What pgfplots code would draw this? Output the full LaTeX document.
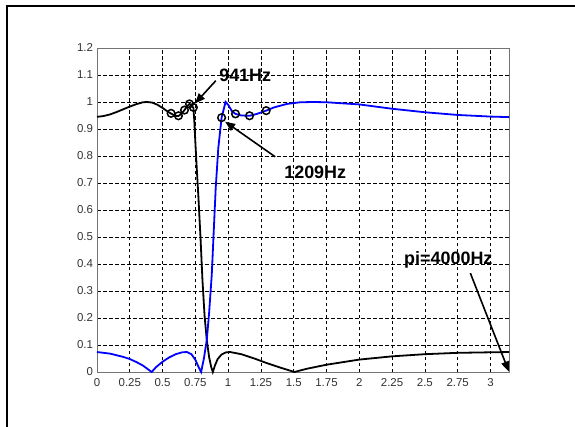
\documentclass[border=0pt]{standalone}
\usepackage{fontspec}
\setmainfont{Liberation Sans}
\usepackage{pgfplots}
\pgfplotsset{compat=1.18}
\usetikzlibrary{arrows.meta}
\begin{document}
\begin{tikzpicture}[x=1bp,y=1bp]
\useasboundingbox (0,0) rectangle (575,426);
\draw[line width=1.6bp] (7,-20) -- (7,420) -- (600,420);
\begin{axis}[
  at={(97bp,54bp)}, anchor=south west,
  width=412bp, height=324bp, scale only axis,
  xmin=0, xmax=3.14159, ymin=0, ymax=1.2,
  xtick={0,0.25,0.5,0.75,1,1.25,1.5,1.75,2,2.25,2.5,2.75,3},
  xticklabels={0,0.25,0.5,0.75,1,1.25,1.5,1.75,2,2.25,2.5,2.75,3},
  ytick={0,0.1,0.2,0.3,0.4,0.5,0.6,0.7,0.8,0.9,1,1.1,1.2},
  yticklabels={0,0.1,0.2,0.3,0.4,0.5,0.6,0.7,0.8,0.9,1,1.1,1.2},
  /pgf/number format/assume math mode=true,
  tick label style={font=\fontsize{11.5}{13}\selectfont, text=black!80},
  xticklabel style={yshift=-3bp},
  yticklabel style={xshift=-0.5bp},
  major tick length=0pt,
  axis line style={draw=black!55, line width=0.8bp},
  grid=major,
  major grid style={black, dash pattern=on 3.5bp off 2.5bp, line width=0.6bp},
  clip=false,
  axis on top=false,
]
\addplot[black, line width=1.8bp] coordinates {
(0,0.945) (0.05,0.948) (0.1,0.954) (0.15,0.963) (0.2,0.973) (0.25,0.983)
(0.3,0.992) (0.35,0.999) (0.38,1.0) (0.42,0.998) (0.46,0.99) (0.5,0.978)
(0.535,0.966) (0.565,0.957) (0.595,0.949) (0.621,0.948) (0.645,0.957)
(0.667,0.970) (0.688,0.985) (0.705,0.993) (0.718,0.99) (0.735,0.978)
(0.742,0.93) (0.75,0.85) (0.76,0.76) (0.773,0.65) (0.79,0.49) (0.804,0.341)
(0.82,0.21) (0.837,0.118) (0.855,0.055) (0.87,0.02) (0.883,0)
(0.9,0.025) (0.92,0.048) (0.95,0.065) (0.985,0.073) (1.015,0.074)
(1.1,0.066) (1.2,0.05) (1.3,0.032) (1.4,0.016) (1.505,0)
(1.6,0.012) (1.75,0.027) (2.0,0.046) (2.25,0.058) (2.5,0.066)
(2.75,0.071) (3.0,0.073) (3.14159,0.074)
};
\addplot[blue, line width=1.8bp] coordinates {
(0,0.074) (0.1,0.068) (0.2,0.056) (0.25,0.048) (0.3,0.037) (0.35,0.024)
(0.417,0) (0.45,0.018) (0.5,0.038) (0.55,0.054) (0.6,0.066) (0.65,0.073)
(0.685,0.074) (0.72,0.066) (0.75,0.045) (0.775,0.018) (0.794,0)
(0.815,0.05) (0.837,0.118) (0.855,0.22) (0.875,0.36) (0.89,0.52)
(0.905,0.68) (0.925,0.83) (0.95,0.942) (0.98,1.0) (1.0,0.99) (1.03,0.965)
(1.056,0.956) (1.1,0.95) (1.163,0.949) (1.22,0.956) (1.29,0.968)
(1.35,0.98) (1.45,0.993) (1.55,0.999) (1.65,1.0) (1.75,0.999)
(2.0,0.991) (2.25,0.975) (2.5,0.962) (2.75,0.952) (3.0,0.946) (3.14159,0.944)
};
\addplot[only marks, mark=o, mark size=3.8bp, mark options={black, line width=1.5bp, fill=white}] coordinates {
(0.565,0.958) (0.621,0.949) (0.667,0.970) (0.705,0.993) (0.735,0.980)
(0.950,0.942) (1.056,0.956) (1.163,0.949) (1.290,0.968)
};
\node[font=\fontsize{18}{21}\selectfont\bfseries] at (axis cs:1.130,1.100) {941Hz};
\draw[line width=1.6bp, -{Triangle[length=10bp,width=8bp]}] (axis cs:0.906,1.079) -- (axis cs:0.748,0.995);
\node[font=\fontsize{18}{21}\selectfont\bfseries] at (axis cs:1.664,0.741) {1209Hz};
\draw[line width=1.6bp, -{Triangle[length=10bp,width=8bp]}] (axis cs:1.359,0.797) -- (axis cs:0.977,0.927);
\node[font=\fontsize{18}{21}\selectfont\bfseries] at (axis cs:2.679,0.415) {pi=4000Hz};
\draw[line width=1.6bp, -{Triangle[length=10bp,width=8bp]}] (axis cs:2.847,0.366) -- (axis cs:3.140,0.002);
\end{axis}
\end{tikzpicture}
\end{document}
